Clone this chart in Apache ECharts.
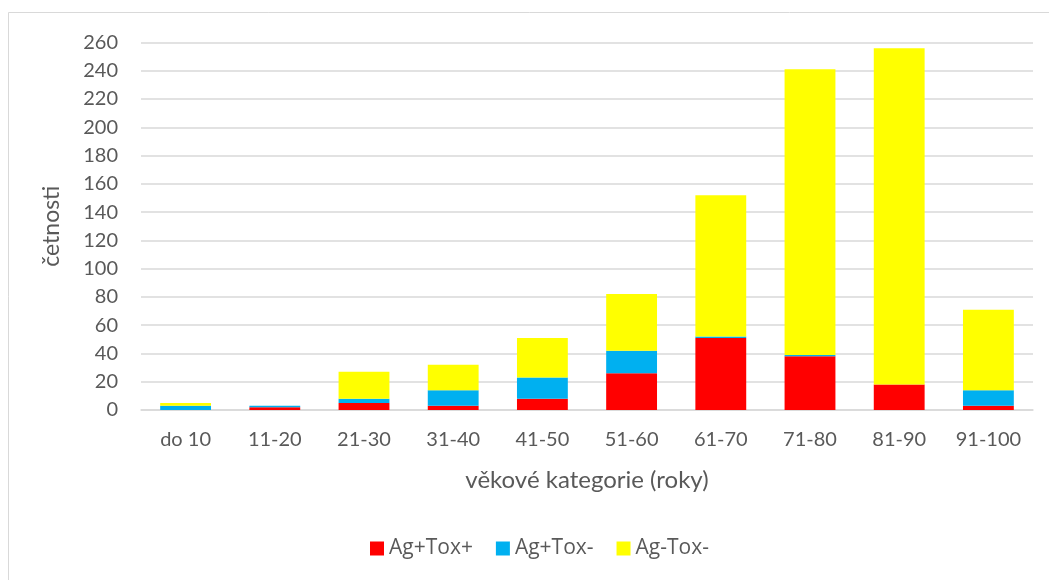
<!DOCTYPE html>
<html>
<head>
<meta charset="utf-8">
<script src="https://cdn.jsdelivr.net/npm/echarts@6/dist/echarts.min.js"></script>
<style>
  html, body { margin: 0; padding: 0; background: #fff; }
  #chart { width: 1049px; height: 580px; }
</style>
</head>
<body>
<div id="chart"></div>
<script>
// Age groups (years)
const categories = ['do 10', '11-20', '21-30', '31-40', '41-50', '51-60', '61-70', '71-80', '81-90', '91-100'];

// Counts per group, stacked
const agToxPos = [0, 2, 5, 3, 8, 26, 51, 38, 18, 3];      // Ag+Tox+
const agToxNeg = [3, 1, 3, 11, 15, 16, 1, 1, 0, 11];      // Ag+Tox-
const agNegToxNeg = [2, 0, 19, 18, 28, 40, 100, 202, 238, 57]; // Ag-Tox-

const seriesNames = ['Ag+Tox+', 'Ag+Tox-', 'Ag-Tox-'];
const seriesColors = ['#FF0000', '#00B0F0', '#FFFF00'];

const FONT = "Lato, 'Open Sans', sans-serif";
const TEXT = '#595959';

const chart = echarts.init(document.getElementById('chart'), null, { renderer: 'canvas' });

const seriesData = [agToxPos, agToxNeg, agNegToxNeg];

chart.setOption({
  animation: false,
  backgroundColor: '#ffffff',
  graphic: [{
    type: 'rect',
    shape: { x: 8.5, y: 12.5, width: 1100, height: 700 },
    style: { fill: 'none', stroke: '#D9D9D9', lineWidth: 1 },
    silent: true,
    z: -1
  }],
  grid: { left: 141, right: 16, top: 42.5, bottom: 170, containLabel: false },
  legend: {
    bottom: 16,
    left: 365,
    itemWidth: 14,
    itemHeight: 14,
    itemGap: 23,
    icon: 'rect',
    textStyle: { color: TEXT, fontSize: 21, fontFamily: "'Open Sans', sans-serif" },
    data: seriesNames
  },
  xAxis: {
    type: 'category',
    data: categories,
    name: 'věkové kategorie (roky)',
    nameLocation: 'middle',
    nameGap: 58,
    nameTextStyle: { color: TEXT, fontSize: 24, fontFamily: FONT },
    axisLine: { show: true, lineStyle: { color: '#D9D9D9', width: 1.5 } },
    axisTick: { show: false },
    axisLabel: { color: TEXT, fontSize: 20, fontFamily: FONT, margin: 20 }
  },
  yAxis: {
    type: 'value',
    min: 0,
    max: 260,
    interval: 20,
    name: 'četnosti',
    nameLocation: 'middle',
    nameGap: 78,
    nameRotate: 90,
    nameTextStyle: { color: TEXT, fontSize: 23, fontFamily: FONT },
    axisLine: { show: false },
    axisTick: { show: false },
    axisLabel: { color: TEXT, fontSize: 20, fontFamily: FONT, margin: 23 },
    splitLine: { lineStyle: { color: '#D9D9D9', width: 1.5 } }
  },
  series: seriesNames.map((name, i) => ({
    name: name,
    type: 'bar',
    stack: 'total',
    data: seriesData[i],
    barWidth: '57%',
    itemStyle: { color: seriesColors[i] }
  }))
});
</script>
</body>
</html>
